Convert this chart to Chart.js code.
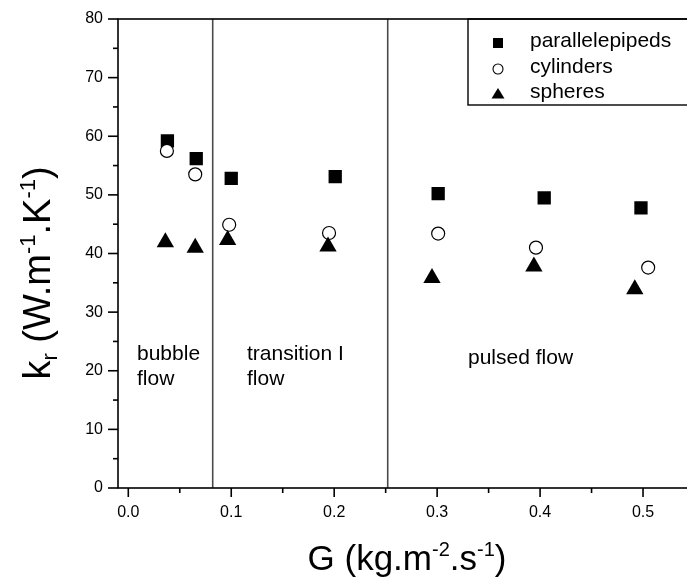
<!DOCTYPE html>
<html lang="en">
<head>
    <meta charset="UTF-8">
    <title>Thermal conductivity vs mass flux</title>
    <script src="https://cdn.jsdelivr.net/npm/chart.js"></script>
    <style>
        html, body { margin: 0; padding: 0; background: #fff; overflow: hidden; }
        canvas { display: block; }
    </style>
</head>
<body>
<canvas id="krChart" width="710" height="581"></canvas>
<script>
    // Values
    const parX = [0.038, 0.066, 0.100, 0.201, 0.301, 0.404, 0.498];
    const parY = [59.2, 56.2, 52.8, 53.1, 50.2, 49.5, 47.8];
    const cylX = [0.0375, 0.065, 0.098, 0.195, 0.301, 0.396, 0.505];
    const cylY = [57.5, 53.5, 44.9, 43.5, 43.4, 41.0, 37.6];
    const sphX = [0.036, 0.065, 0.0965, 0.194, 0.295, 0.394, 0.492];
    const sphY = [41.9, 41.0, 42.3, 41.2, 35.8, 37.8, 33.9];

    const xTicks = [0, 0.1, 0.2, 0.3, 0.4, 0.5];
    const yTicks = [0, 10, 20, 30, 40, 50, 60, 70, 80];

    // flow regime limits (G) and their names
    const regimeBounds = [0.082, 0.252];
    const regimeNames = [['bubble', 'flow'], ['transition I', 'flow'], ['pulsed flow']];
    const legendNames = ['parallelepipeds', 'cylinders', 'spheres'];

    const FONT = "'Liberation Sans', Arial, Helvetica, sans-serif";

    function toPoints(xs, ys) {
        return xs.map((x, i) => ({ x: x, y: ys[i] }));
    }

    // draw a run of text pieces (text, size, raise) centred on x
    function drawRuns(ctx, runs, x, y) {
        let w = 0;
        runs.forEach(r => { ctx.font = r[1] + 'px ' + FONT; w += ctx.measureText(r[0]).width; });
        let cx = x - w / 2;
        runs.forEach(r => {
            ctx.font = r[1] + 'px ' + FONT;
            ctx.fillText(r[0], cx, y - r[2]);
            cx += ctx.measureText(r[0]).width;
        });
    }

    function line(ctx, x1, y1, x2, y2) {
        ctx.beginPath();
        ctx.moveTo(x1, y1);
        ctx.lineTo(x2, y2);
        ctx.stroke();
    }

    const framePlugin = {
        id: 'frame',
        beforeDatasetsDraw(chart) {
            const { ctx, chartArea: a, scales: { x, y } } = chart;
            ctx.save();

            // regime boundaries
            ctx.strokeStyle = '#4a4a4a';
            ctx.lineWidth = 1.6;
            regimeBounds.forEach(g => {
                const px = x.getPixelForValue(g);
                line(ctx, px, a.top, px, a.bottom);
            });

            // box round the plot
            ctx.strokeStyle = '#000';
            ctx.lineWidth = 1.6;
            ctx.strokeRect(a.left, a.top, a.right - a.left, a.bottom - a.top);

            // major and minor tick marks, outside
            xTicks.forEach(v => {
                const px = x.getPixelForValue(v);
                line(ctx, px, a.bottom, px, a.bottom + 9);
                const m = x.getPixelForValue(v + 0.05);
                line(ctx, m, a.bottom, m, a.bottom + 5);
            });
            yTicks.forEach((v, i) => {
                const py = y.getPixelForValue(v);
                line(ctx, a.left - 10, py, a.left, py);
                if (i < yTicks.length - 1) {
                    const m = y.getPixelForValue(v + 5);
                    line(ctx, a.left - 5, m, a.left, m);
                }
            });
            ctx.restore();
        },
        afterDraw(chart) {
            const { ctx, chartArea: a } = chart;
            ctx.save();
            ctx.fillStyle = '#000';
            ctx.textAlign = 'left';
            ctx.textBaseline = 'alphabetic';

            // regime names
            ctx.font = '21px ' + FONT;
            const spots = [[137, 360], [247, 360], [468, 364]];
            regimeNames.forEach((lines, i) => {
                lines.forEach((t, j) => ctx.fillText(t, spots[i][0], spots[i][1] + j * 25));
            });

            // legend box
            ctx.strokeStyle = '#000';
            ctx.lineWidth = 1.4;
            ctx.strokeRect(468, a.top, 260, 86);
            const mx = 498;
            ctx.fillRect(mx - 5, 38, 10, 10);
            ctx.beginPath();
            ctx.arc(mx, 69, 5, 0, Math.PI * 2);
            ctx.fillStyle = '#fff';
            ctx.fill();
            ctx.lineWidth = 1.1;
            ctx.stroke();
            ctx.fillStyle = '#000';
            ctx.beginPath();
            ctx.moveTo(mx, 88);
            ctx.lineTo(mx + 6.5, 98.5);
            ctx.lineTo(mx - 6.5, 98.5);
            ctx.closePath();
            ctx.fill();
            ctx.font = '21px ' + FONT;
            legendNames.forEach((t, i) => ctx.fillText(t, 530, 47 + i * 25.5));

            // axis titles
            drawRuns(ctx, [['G (kg.m', 35, 0], ['-2', 20, 14], ['.s', 35, 0], ['-1', 20, 14], [')', 35, 0]], 407, 570);
            ctx.translate(50, 273);
            ctx.rotate(-Math.PI / 2);
            drawRuns(ctx, [['k', 38, 0], ['r', 22, -7], [' (W.m', 38, 0], ['-1', 22, 15], ['.K', 38, 0], ['-1', 22, 15], [')', 38, 0]], 0, 0);
            ctx.restore();
        }
    };

    const ctx = document.getElementById('krChart').getContext('2d');
    new Chart(ctx, {
        type: 'scatter',
        data: {
            datasets: [
                {
                    label: legendNames[0],
                    data: toPoints(parX, parY),
                    pointStyle: 'rect',
                    pointRadius: 9.4,
                    backgroundColor: '#000',
                    borderColor: '#000',
                    borderWidth: 0,
                    order: 3
                },
                {
                    label: legendNames[1],
                    data: toPoints(cylX, cylY),
                    pointStyle: 'circle',
                    pointRadius: 6.5,
                    backgroundColor: '#fff',
                    borderColor: '#000',
                    borderWidth: 1.2,
                    order: 2
                },
                {
                    label: legendNames[2],
                    data: toPoints(sphX, sphY),
                    pointStyle: 'triangle',
                    pointRadius: 10,
                    backgroundColor: '#000',
                    borderColor: '#000',
                    borderWidth: 0,
                    order: 1
                }
            ]
        },
        options: {
            responsive: false,
            animation: false,
            events: [],
            layout: { padding: { top: 19, right: 15.5, left: 0, bottom: 0 } },
            plugins: { legend: { display: false }, tooltip: { enabled: false } },
            scales: {
                x: {
                    type: 'linear',
                    min: -0.01,
                    max: 0.55,
                    afterBuildTicks: s => { s.ticks = xTicks.map(v => ({ value: v })); },
                    afterFit: s => { s.height = 93; },
                    ticks: {
                        autoSkip: false,
                        maxRotation: 0,
                        padding: 6,
                        color: '#000',
                        font: { family: FONT, size: 16 },
                        callback: v => v.toFixed(1)
                    },
                    grid: { display: false, drawTicks: true, tickLength: 9 },
                    border: { display: false }
                },
                y: {
                    min: 0,
                    max: 80,
                    afterBuildTicks: s => { s.ticks = yTicks.map(v => ({ value: v })); },
                    afterFit: s => { s.width = 118; },
                    ticks: {
                        autoSkip: false,
                        padding: 5,
                        color: '#000',
                        font: { family: FONT, size: 16 },
                        callback: v => String(v)
                    },
                    grid: { display: false, drawTicks: true, tickLength: 10 },
                    border: { display: false }
                }
            }
        },
        plugins: [framePlugin]
    });
</script>
</body>
</html>
